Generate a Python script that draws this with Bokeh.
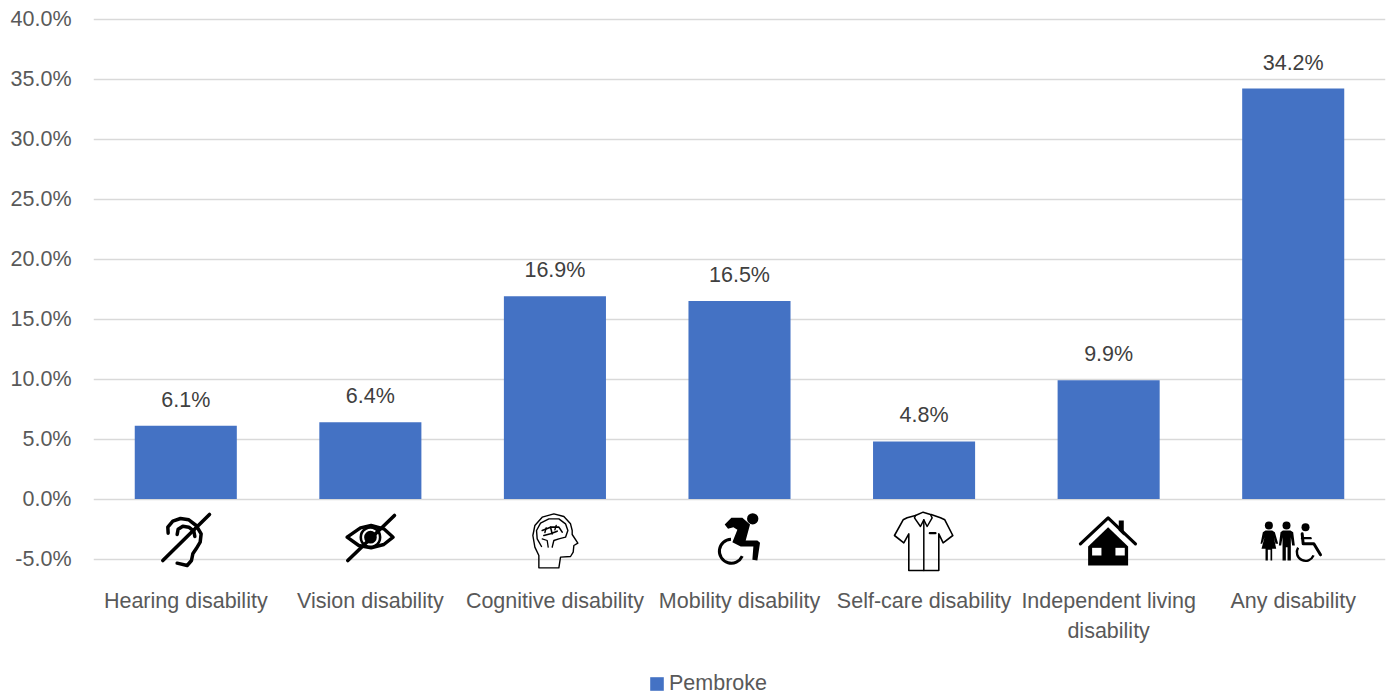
from bokeh.embed import file_html
from bokeh.resources import INLINE
from bokeh.plotting import figure
from bokeh.core.properties import value
from bokeh.models import (ColumnDataSource, FixedTicker, Legend, LegendItem,
                          PrintfTickFormatter, Range1d)

categories = ["Hearing disability", "Vision disability", "Cognitive disability",
              "Mobility disability", "Self-care disability",
              "Independent living\ndisability", "Any disability"]
series_name = "Pembroke"
values = [6.1, 6.4, 16.9, 16.5, 4.8, 9.9, 34.2]
y_ticks = [-5, 0, 5, 10, 15, 20, 25, 30, 35, 40]

FONT = "Liberation Sans"
GREY = "#595959"
BLUE = "#4472C4"
W, H = 1386, 696
LEFT, RIGHT, TOP = 93, 1385, 7
PX_X = (RIGHT - LEFT) / len(categories)
PX_Y = 12.0
ZERO = 498.5

p = figure(width=W, height=H, output_backend="svg", toolbar_location=None,
           x_range=Range1d(-0.5, 6.5),
           y_range=Range1d(-(H - ZERO) / PX_Y, (ZERO - TOP) / PX_Y),
           min_border_left=LEFT, min_border_right=W - RIGHT,
           min_border_top=TOP, min_border_bottom=0)
p.outline_line_color = None
p.background_fill_color = "white"
p.xgrid.visible = False
p.ygrid.ticker = FixedTicker(ticks=y_ticks)
p.ygrid.grid_line_color = "#D9D9D9"
p.ygrid.grid_line_width = 1.4

p.yaxis.ticker = FixedTicker(ticks=y_ticks)
p.yaxis.formatter = PrintfTickFormatter(format="%.1f%%")
p.yaxis.axis_line_color = None
p.yaxis.major_tick_line_color = None
p.yaxis.minor_tick_line_color = None
p.yaxis.major_tick_out = 0
p.yaxis.major_label_standoff = 22
p.yaxis.major_label_text_font = FONT
p.yaxis.major_label_text_font_size = "21.5px"
p.yaxis.major_label_text_color = GREY

p.xaxis.fixed_location = -7.04
p.xaxis.ticker = FixedTicker(ticks=list(range(len(categories))))
p.xaxis.major_label_overrides = {i: c for i, c in enumerate(categories)}
p.xaxis.axis_line_color = None
p.xaxis.major_tick_line_color = None
p.xaxis.minor_tick_line_color = None
p.xaxis.major_tick_out = 0
p.xaxis.major_label_standoff = 6
p.xaxis.major_label_text_font = FONT
p.xaxis.major_label_text_font_size = "21.5px"
p.xaxis.major_label_text_color = GREY
p.xaxis.major_label_text_line_height = 1.25

xs = list(range(len(categories)))
src = ColumnDataSource(dict(x=xs, top=values, label=[f"{v:.1f}%" for v in values]))
bars = p.vbar(x="x", top="top", bottom=0, width=0.553, source=src,
              fill_color=BLUE, line_color=None)
p.text(x="x", y="top", text="label", source=src, y_offset=-26,
       text_align="center", text_baseline="middle", text_color="#404040",
       text_font=value(FONT), text_font_size="21.5px")


def to_data(i, crop, pts):
    """Icon outlines are in crop units (1/3 px); crop is the offset from category centre/zero line."""
    ox, oy = crop
    return ([i + (a / 3 + ox) / PX_X for a, _ in pts],
            [-(b / 3 + oy) / PX_Y for _, b in pts])


def line(i, crop, pts, w):
    x, y = to_data(i, crop, pts)
    p.line(x, y, line_color="black", line_width=w, line_join="round", line_cap="round")


def fill(i, crop, pts, color="black"):
    x, y = to_data(i, crop, pts)
    p.patch(x, y, fill_color=color, line_color=None)


def dot(i, crop, c, r):
    x, y = to_data(i, crop, [c])
    p.scatter(x, y, size=2 * r / 3, fill_color="black", line_color=None)


def ring(i, crop, c, r, w, start=0.0, end=6.283):
    x, y = to_data(i, crop, [c])
    p.arc(x, y, radius=r / 3, radius_units="screen", start_angle=start, end_angle=end,
          line_color="black", line_width=w)


# Hearing
c = (-30.3, 11.5)
line(0, c, [(38, 68), (37, 50), (52, 32), (75, 24), (100, 28), (122, 45), (137, 70), (134, 95),
            (122, 115), (112, 130), (108, 150), (95, 165), (65, 158)], 3.5)
line(0, c, [(65, 72), (68, 56), (82, 47), (100, 50), (115, 62), (118, 78)], 3.5)
line(0, c, [(22, 150), (162, 12)], 3.6)
# Vision
c = (-29.9, 11.5)
line(1, c, [(20, 80), (60, 52), (92, 45), (130, 55), (158, 80), (130, 102), (92, 112),
            (55, 105), (20, 80)], 3.4)
ring(1, c, (90, 80), 29, 2.6)
dot(1, c, (90, 80), 19)
line(1, c, [(22, 150), (162, 15)], 3.6)
# Cognitive
c = (-29.4, 11.5)
line(2, c, [(40, 135), (28, 110), (22, 75), (28, 45), (50, 20), (85, 10), (115, 18), (135, 40),
            (140, 60), (140, 72), (157, 98), (145, 105), (143, 125), (135, 138), (105, 140),
            (100, 172), (40, 172), (40, 135)], 1.4)
line(2, c, [(48, 108), (35, 85), (33, 60), (45, 38), (70, 25), (100, 25), (120, 40), (127, 60),
            (120, 80), (100, 85), (85, 90), (80, 110)], 1.4)
line(2, c, [(68, 110), (65, 90), (50, 85)], 1.3)
line(2, c, [(50, 60), (75, 50), (100, 50), (110, 65)], 1.6)
line(2, c, [(75, 50), (80, 70)], 1.6)
line(2, c, [(55, 75), (75, 70), (95, 62)], 1.6)
line(2, c, [(62, 52), (58, 66)], 1.4)
line(2, c, [(92, 45), (88, 58)], 1.4)
# Mobility
c = (-28.8, 11.5)
dot(3, c, (126, 25), 17)
fill(3, c, [(42, 42), (62, 22), (95, 22), (118, 42), (105, 90), (140, 90), (148, 97), (140, 150),
            (125, 148), (128, 108), (90, 108), (65, 95), (80, 58), (68, 50), (52, 55)])
ring(3, c, (62, 122), 36, 3, 1.6, 5.85)
# Self-care
c = (-33.6, 11.5)
line(4, c, [(75, 15), (50, 22), (38, 28), (12, 75), (40, 97), (55, 70), (55, 180), (145, 180),
            (145, 70), (158, 97), (187, 75), (163, 28), (150, 22), (122, 12)], 1.6)
line(4, c, [(75, 15), (98, 5), (120, 12), (125, 22), (110, 48), (100, 28), (90, 48), (72, 22), (75, 15)], 1.5)
line(4, c, [(100, 28), (100, 180)], 1.5)
line(4, c, [(118, 68), (135, 68)], 2.2)
# Independent living
c = (-33.2, 11.5)
line(5, c, [(15, 100), (98, 22), (180, 100)], 3.2)
fill(5, c, [(130, 30), (145, 30), (145, 75), (130, 60)])
fill(5, c, [(38, 108), (98, 50), (158, 108), (158, 165), (38, 165)])
fill(5, c, [(50, 112), (78, 112), (78, 135), (50, 135)], "white")
fill(5, c, [(120, 112), (148, 112), (148, 135), (120, 135)], "white")
# Any
c = (-37.7, 16.5)
dot(6, c, (40, 30), 12)
fill(6, c, [(30, 45), (50, 45), (58, 50), (68, 85), (60, 85), (55, 65), (62, 100), (50, 100), (50, 135),
            (45, 135), (45, 103), (37, 103), (37, 135), (30, 135), (30, 100), (18, 100), (27, 65),
            (20, 85), (15, 85), (22, 50)])
dot(6, c, (93, 30), 12)
fill(6, c, [(82, 45), (105, 45), (113, 50), (118, 90), (110, 90), (106, 65), (106, 135), (96, 135),
            (96, 95), (91, 95), (91, 135), (81, 135), (81, 65), (77, 90), (70, 90), (75, 50)])
dot(6, c, (150, 35), 12)
line(6, c, [(140, 55), (143, 85), (175, 85), (195, 118)], 3)
line(6, c, [(140, 68), (165, 68)], 2.4)
ring(6, c, (150, 110), 26, 2.4, 2.6, 5.9)

legend = Legend(items=[LegendItem(label=series_name, renderers=[bars])],
                location=(555, 0), orientation="horizontal",
                background_fill_alpha=0, border_line_color=None,
                glyph_width=17, glyph_height=17, label_standoff=4,
                padding=0, margin=0, spacing=0,
                label_text_font=FONT, label_text_font_size="21.5px", label_text_color=GREY)
p.add_layout(legend, "center")

open("out.html", "w").write(file_html(p, INLINE))
